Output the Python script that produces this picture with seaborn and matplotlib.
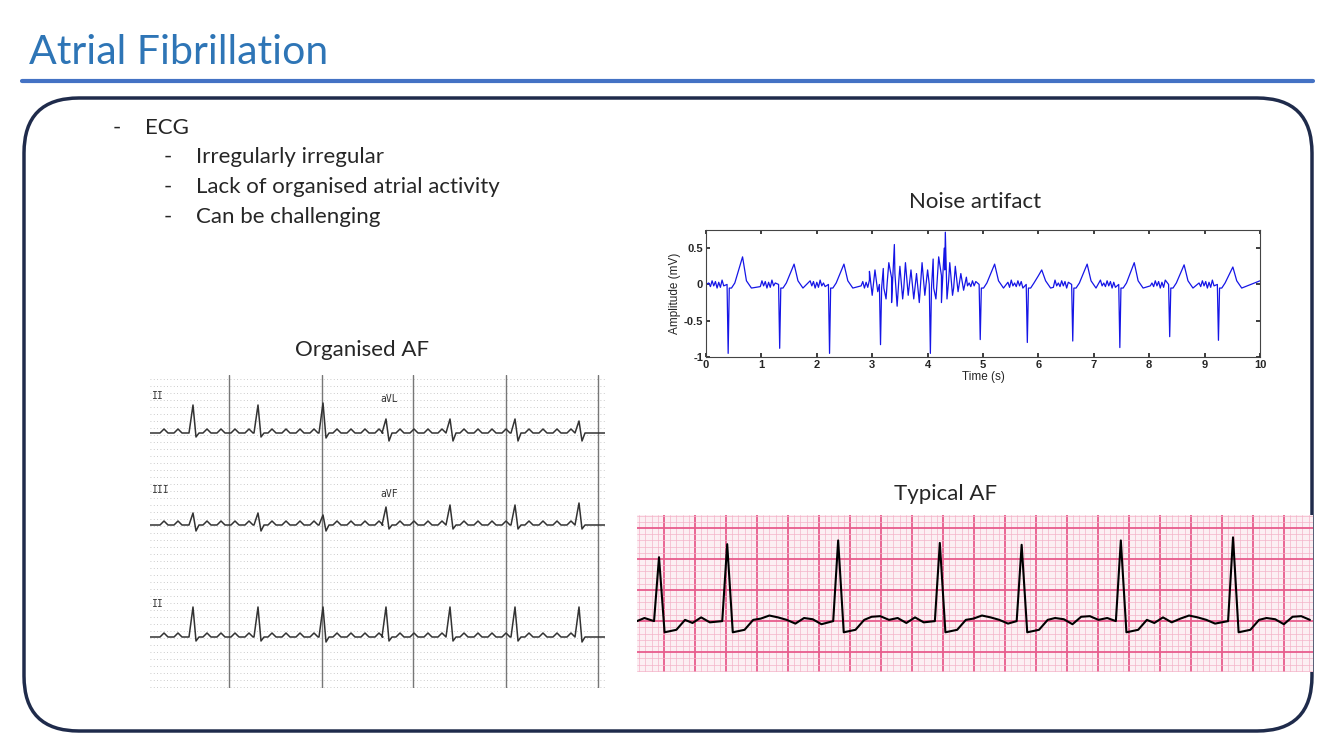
import matplotlib.pyplot as plt
from matplotlib.patches import FancyBboxPatch
import numpy as np
import pandas as pd
import seaborn as sns

sns.set_theme(style="white")
plt.rcParams['font.family'] = ['Lato', 'DejaVu Sans']

W, H = 1334, 750

# ---- data ----
bullets = ["ECG"]
sub_bullets = ["Irregularly irregular", "Lack of organised atrial activity", "Can be challenging"]

# noise artifact panel (time in s, amplitude in mV)
noise_beats = [0.40, 1.33, 2.23, 3.15, 4.05, 4.95, 5.80, 6.62, 7.47, 8.37, 9.25]
noise_depth = [-0.95, -0.88, -0.95, -0.83, -0.95, -0.76, -0.80, -0.78, -0.87, -0.72, -0.77]
noise_twave = [0.38, 0.28, 0.28, 0.15, 0.20, 0.28, 0.20, 0.28, 0.30, 0.27, 0.24]
noise_burst_t = [2.95, 3.0, 3.05, 3.1, 3.2, 3.25, 3.3, 3.35, 3.4, 3.45, 3.5, 3.55, 3.6, 3.65, 3.7,
                 3.75, 3.8, 3.85, 3.9, 3.95, 4.0, 4.1, 4.15, 4.2, 4.25, 4.3, 4.32, 4.35, 4.4, 4.45,
                 4.5, 4.55, 4.6, 4.65, 4.7]
noise_burst_v = [0.18, -0.15, 0.2, -0.1, 0.22, -0.2, 0.3, -0.25, 0.55, -0.3, 0.25, -0.2, 0.3, -0.15, 0.2,
                 -0.2, 0.15, -0.25, 0.3, -0.15, 0.2, 0.35, -0.2, 0.38, -0.25, 0.5, 0.72, -0.2, 0.3, -0.15,
                 0.25, -0.1, 0.15, -0.08, 0.1]
noise_wiggle = [0.02, -0.03, 0.05, -0.02, 0.04, -0.05, 0.03, -0.04, 0.06, -0.02]

# organised AF panel (pixel-like units within the strip)
oaf_rows = ["II", "III", "II"]
oaf_base = [58, 150, 262]
oaf_peaks = [43, 108, 173, 236, 300, 365, 429]
oaf_amp = [[28, 28, 30, 14, 14, 14, 12],
           [12, 12, 10, 18, 20, 20, 22],
           [30, 30, 30, 30, 30, 30, 30]]
oaf_dip = [[-4, -4, -5, -8, -8, -8, -8],
           [-6, -6, -6, -4, -4, -4, -4],
           [-4, -4, -5, -4, -4, -4, -5]]
oaf_labels = [("II", 2, 24), ("aVL", 230, 27), ("III", 2, 118), ("aVF", 230, 122), ("II", 2, 232)]
oaf_gridx = [79, 172, 263, 356, 448]

# typical AF panel (mm on ECG paper)
taf_peaks = [-0.8, 10.2, 28.1, 44.5, 57.7, 73.7, 91.8]
taf_height = [10.3, 12.4, 13.0, 12.6, 12.3, 13.0, 13.5]
taf_fwave = [0.5, -0.3, 0.6, -0.2, 0.4, 0.9, 0.6, 0.2, -0.4, 0.5, 0.3, -0.5, 0.7, 0.8, 0.2]


def ax_at(x0, y0, x1, y1):
    return fig.add_axes([x0 / W, 1 - y1 / H, (x1 - x0) / W, (y1 - y0) / H])


def draw_trace(ax, xs, ys, color, lw):
    df = pd.DataFrame({"x": xs, "y": ys})
    sns.lineplot(data=df, x="x", y="y", ax=ax, color=color, lw=lw,
                 sort=False, estimator=None)
    ax.set_xlabel("")
    ax.set_ylabel("")


fig = plt.figure(figsize=(W / 100, H / 100), dpi=100)

# ---- slide frame ----
bg = fig.add_axes([0, 0, 1, 1])
bg.set_xlim(0, W)
bg.set_ylim(H, 0)
bg.axis("off")
bg.text(29, 53, "Atrial Fibrillation", fontsize=29.5, color="#2E75B6", va="center")
bg.plot([22, 1313], [81, 81], color="#4472C4", lw=3)
bg.add_patch(FancyBboxPatch((24, 98), 1288, 633, boxstyle="round,pad=0,rounding_size=55",
                            fc="none", ec="#1F2B4B", lw=2.5))
fs = 16
for i, b in enumerate(bullets):
    bg.text(113, 128, "-", fontsize=fs, va="center")
    bg.text(145, 128, b, fontsize=fs, va="center")
for i, s in enumerate(sub_bullets):
    y = 157 + 30 * i
    bg.text(164, y, "-", fontsize=fs, va="center")
    bg.text(196, y, s, fontsize=fs, va="center")
bg.text(975, 202, "Noise artifact", fontsize=fs, ha="center", va="center")
bg.text(362, 350, "Organised AF", fontsize=fs, ha="center", va="center")
bg.text(945, 494, "Typical AF", fontsize=fs, ha="center", va="center")

# ---- noise artifact ----
ax = ax_at(706, 230, 1260, 357)
xs, ys = [0.0], [0.0]
for k, (t, d, tw) in enumerate(zip(noise_beats, noise_depth, noise_twave)):
    pre = [t - 0.35 + 0.03 * j for j in range(10)]
    for j, p in enumerate(pre):
        if not (2.95 <= p <= 4.7):
            xs.append(p)
            ys.append(noise_wiggle[(j + k) % len(noise_wiggle)])
    xs += [t - 0.02, t, t + 0.02, t + 0.06, t + 0.12, t + 0.2, t + 0.26, t + 0.33, t + 0.42]
    ys += [0.0, d, -0.05, -0.05, 0.02, 0.6 * tw, tw, 0.05, -0.05]
for bt, bv in zip(noise_burst_t, noise_burst_v):
    xs.append(bt)
    ys.append(bv)
order = np.argsort(xs, kind="stable")
xs = list(np.array(xs)[order]) + [10.0]
ys = list(np.array(ys)[order]) + [0.05]
draw_trace(ax, xs, ys, "#1515E6", 0.9)
ax.set_xlim(0, 10)
ax.set_ylim(-1, 0.75)
ax.set_xticks(range(11))
ax.set_yticks([-1, -0.5, 0, 0.5])
ax.set_yticklabels(["-1", "-0.5", "0", "0.5"])
ax.tick_params(labelsize=8, length=3, direction="in", pad=2, left=True, bottom=True, top=True, right=True)
for lab in ax.get_xticklabels() + ax.get_yticklabels():
    lab.set_family(["Liberation Sans", "DejaVu Sans"])
    lab.set_fontweight("bold")
for s in ax.spines.values():
    s.set_color("#444444")
    s.set_linewidth(0.8)
ax.set_xlabel("Time (s)", fontsize=8.5, labelpad=1, family=["Liberation Sans"])
ax.set_ylabel("Amplitude (mV)", fontsize=8.5, labelpad=2, family=["Liberation Sans"])

# ---- organised AF ----
ax = ax_at(150, 375, 605, 688)
ax.set_xlim(0, 455)
ax.set_ylim(313, 0)
ax.axis("off")
for gy in range(4, 313, 7):
    ax.axhline(gy, color="#BBBBBB", lw=0.6, ls=(0, (1, 3)))
for gx in oaf_gridx:
    ax.axvline(gx, color="#777777", lw=1)
for r, base in enumerate(oaf_base):
    xs, ys = [0], [base]
    prev = 0
    for p, a, d in zip(oaf_peaks, oaf_amp[r], oaf_dip[r]):
        for f in range(prev + 10, p - 8, 14):
            xs += [f, f + 4, f + 8]
            ys += [base, base - 4, base]
        xs += [p - 4, p, p + 3, p + 6]
        ys += [base, base - a, base - d, base]
        prev = p
    xs.append(455)
    ys.append(base)
    draw_trace(ax, xs, ys, "#333333", 1.1)
for lab, lx, ly in oaf_labels:
    ax.text(lx, ly, lab, fontsize=7, family="DejaVu Sans Mono", color="#333333")

# ---- typical AF ----
ax = ax_at(637, 515, 1313, 672)
ax.set_xlim(-4.35, 104.7)
ax.set_ylim(-8.2, 17.1)
ax.set_facecolor("#FCEFF3")
for gx in np.arange(-4, 105, 1.0):
    major = abs(gx % 5) < 1e-6
    ax.axvline(gx, color="#E75C8C" if major else "#F4B3C8", lw=1.3 if major else 0.5, zorder=0)
for gy in np.arange(-8, 18, 1.0):
    major = abs(gy % 5) < 1e-6
    ax.axhline(gy, color="#E75C8C" if major else "#F4B3C8", lw=1.3 if major else 0.5, zorder=0)
xs, ys = [-4.35], [0]
prev = -4.35
k = 0
for p, h in zip(taf_peaks, taf_height):
    f = prev + 1.2
    while f < p - 1.5:
        xs.append(f)
        ys.append(taf_fwave[k % len(taf_fwave)])
        k += 1
        f += 1.4
    xs += [p - 0.8, p, p + 0.9, p + 2.8, p + 4.2]
    ys += [0, h, -1.8, -1.4, 0.2]
    prev = p + 4.2
f = prev + 1.2
while f < 104.7:
    xs.append(f)
    ys.append(taf_fwave[k % len(taf_fwave)])
    k += 1
    f += 1.4
draw_trace(ax, xs, ys, "black", 1.5)
ax.set_xticks([])
ax.set_yticks([])
for s in ax.spines.values():
    s.set_visible(False)

fig.savefig("out.png", dpi=100)
